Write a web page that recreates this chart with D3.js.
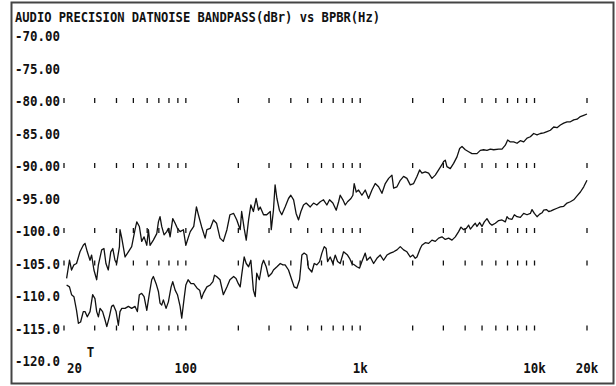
<!DOCTYPE html>
<html><head><meta charset="utf-8">
<script src="https://cdn.jsdelivr.net/npm/d3@7"></script>
<style>html,body{margin:0;padding:0;background:#fff;}svg{display:block;}</style>
</head><body>
<svg id="c" width="616" height="386"></svg>
<script>
const title = "AUDIO PRECISION DATNOISE BANDPASS(dBr) vs BPBR(Hz)";
const yTickValues = [-70,-75,-80,-85,-90,-95,-100,-105,-110,-115,-120];
const yTickLabels = ["-70.00","-75.00","-80.00","-85.00","-90.00","-95.00","-100.0","-105.0","-110.0","-115.0","-120.0"];
const xTickValues = [20,100,1000,10000,20000];
const xTickLabels = ["20","100","1k","10k","20k"];
const gridRows = [-80,-90,-100,-105,-115];
const gridFreqs = [20,30,40,50,60,70,80,90,100,200,300,400,500,600,700,800,900,1000,2000,3000,4000,5000,6000,7000,8000,9000,10000,20000];
const cursorFreq = 28.4;
const cursorLabel = "T";

const upperFreq = [20.7,21.5,22.1,22.8,23.6,24.7,25.8,26.4,27.2,28.2,28.8,29.7,30.8,31.5,32.9,33.9,34.8,35.9,37.1,38.1,39.2,40.1,41.6,41.9,42.9,44.8,46.8,48.9,51.1,52.3,54.1,55.8,57.6,59.7,61.0,62.3,65.1,68.1,69.6,71.1,72.7,75.0,77.7,79.4,81.2,84.1,86.8,89.5,92.7,96.8,100,103,106,111,115,118,123,129,132,138,144,150,157,164,172,179,188,196,205,
209,216,222,229,236,244,253,261,267,279,291,305,309,318,325,333,344,355,371,388,400,415,429,443,457,473,490,517,540,564,590,616,644,667,697,729,752,768,796,821,846,885,908,924,949,979,1023,1069,1117,1168,1220,1275,1333,1393,1456,1521,1555,1625,1698,1774,1854,1937,2025,2116,2192,
2260,2362,2469,2580,2696,2818,2944,3010,3077,3145,3287,3435,3591,3720,3837,4009,4190,4378,4676,4887,5107,5337,5578,5829,6228,6508,6801,7015,7267,7594,7936,8293,8666,9057,9465,9891,10338,10802,11288,11796,12328,12883,13464,14071,14704,15367,16059,16782,17539,18330,19152,20000];
const upperDb = [-107.3,-104.5,-106.0,-105.2,-105.0,-103.2,-102.2,-101.9,-103.2,-104.5,-103.7,-106.0,-107.5,-105.2,-102.9,-102.7,-105.0,-106.0,-103.2,-102.7,-104.5,-105.0,-102.4,-99.8,-101.1,-104.0,-103.2,-102.4,-99.8,-98.6,-99.3,-101.6,-100.9,-102.2,-99.8,-102.2,-101.4,-100.4,-98.6,-97.8,-99.3,-100.6,-100.1,-99.6,-100.9,-98.1,-98.8,-99.6,-100.1,-99.8,-102.2,-101.1,-100.1,-99.3,-96.3,-97.5,-99.3,-101.1,-99.8,-99.6,-98.3,-98.8,-101.1,-101.6,-99.8,-97.5,-97.3,-98.3,-99.8,
-97.0,-99.6,-101.4,-98.3,-96.0,-97.0,-95.0,-96.8,-96.3,-97.5,-97.5,-97.0,-99.8,-96.8,-92.9,-95.0,-96.8,-97.5,-96.3,-95.0,-94.5,-95.2,-97.3,-98.3,-97.0,-96.0,-95.7,-96.3,-95.7,-96.0,-95.5,-95.2,-96.0,-95.2,-95.7,-96.8,-95.5,-94.5,-95.2,-96.0,-95.5,-95.0,-94.5,-92.7,-94.0,-93.7,-94.5,-93.7,-95.0,-93.7,-92.7,-93.2,-94.2,-92.7,-91.9,-91.4,-93.4,-93.2,-92.2,-91.6,-91.9,-92.9,-92.7,-91.6,-90.6,
-91.1,-90.9,-91.1,-91.9,-91.4,-90.6,-89.8,-89.3,-89.1,-90.1,-90.4,-89.6,-88.6,-87.3,-87.0,-87.5,-87.8,-88.1,-88.1,-87.6,-87.5,-87.6,-87.4,-87.5,-87.4,-87.4,-86.8,-86.0,-86.3,-86.3,-86.5,-86.1,-86.3,-85.7,-85.5,-85.0,-85.2,-85.0,-84.9,-84.7,-84.5,-84.0,-84.1,-83.7,-83.4,-83.2,-83.2,-82.9,-82.8,-82.4,-82.2,-82.0];

const lowerFreq = [20.7,21.5,22.1,22.8,23.6,24.2,24.9,25.8,26.4,27.2,28.2,29.2,30.1,30.8,31.5,32.2,33.3,34.4,35.2,36.4,37.5,38.4,39.8,41.0,41.9,42.9,44.8,46.8,48.9,51.1,52.7,54.1,55.8,57.6,59.7,61.8,63.7,65.1,67.5,69.6,71.1,72.7,74.3,77.0,79.4,82.3,84.1,86.8,89.5,92.7,94.7,97.7,100,103,107,111,116,120,123,126,132,138,143,146,150,157,164,172,179,188,194,200,205,
209,216,222,229,236,244,250,255,264,273,279,289,298,311,318,333,348,360,371,388,405,418,433,449,463,477,494,505,528,545,564,585,603,622,638,650,673,697,719,742,768,803,846,869,896,924,957,992,1023,1069,1093,1142,1194,1247,1304,1362,1424,1488,1555,1625,1698,1774,1854,1937,2007,2070,2116,2211,
2260,2362,2469,2580,2696,2818,2944,3077,3216,3361,3512,3670,3785,3921,4062,4190,4284,4436,4574,4676,4844,4996,5152,5337,5528,5702,5960,6228,6508,6801,6953,7108,7429,7662,7936,8293,8666,9057,9465,9676,9978,10338,10708,11046,11288,11694,12061,12441,12883,13464,14071,14704,15367,16059,16782,17539,18330,19152,20000];
const lowerDb = [-108.3,-108.6,-109.8,-110.1,-112.2,-114.2,-114.0,-112.4,-112.4,-113.2,-112.4,-109.8,-110.4,-112.4,-113.2,-111.9,-112.4,-113.7,-114.7,-113.2,-111.6,-111.4,-112.4,-114.5,-112.4,-111.9,-111.9,-111.6,-111.9,-111.6,-112.4,-109.8,-109.6,-110.1,-112.2,-109.6,-107.5,-107.0,-108.1,-109.3,-111.1,-111.4,-110.6,-111.9,-110.9,-108.6,-107.8,-109.1,-109.8,-111.6,-113.4,-110.4,-108.3,-107.5,-108.1,-108.1,-108.8,-109.1,-110.4,-109.6,-108.6,-108.3,-107.8,-106.8,-107.0,-107.5,-109.8,-108.6,-107.5,-107.0,-107.3,-108.1,-108.6,
-106.8,-104.0,-105.0,-105.5,-104.5,-109.1,-110.1,-106.5,-107.5,-105.2,-104.5,-105.5,-107.0,-106.5,-106.0,-105.5,-105.0,-105.2,-105.2,-106.0,-107.5,-108.6,-108.8,-107.5,-103.7,-103.4,-103.7,-105.7,-106.3,-105.0,-105.2,-104.7,-103.4,-102.4,-102.7,-104.7,-104.0,-105.0,-103.7,-104.7,-105.0,-103.2,-103.7,-104.2,-105.0,-105.2,-105.5,-105.7,-104.7,-103.4,-104.5,-104.0,-105.0,-104.2,-103.7,-104.5,-103.7,-103.4,-103.2,-102.9,-102.4,-102.9,-103.2,-104.0,-103.7,-104.2,-104.0,-102.7,
-102.2,-101.8,-101.9,-101.4,-101.6,-101.1,-100.9,-101.3,-101.1,-101.4,-100.9,-100.1,-99.4,-99.8,-99.6,-99.1,-99.7,-99.2,-98.8,-99.3,-98.7,-99.3,-98.6,-98.1,-98.8,-99.1,-98.8,-98.4,-98.3,-98.6,-97.8,-98.1,-98.2,-97.5,-97.8,-97.9,-97.3,-97.5,-97.3,-96.7,-97.3,-97.8,-97.4,-97.2,-96.8,-96.7,-97.0,-96.9,-96.7,-96.5,-96.3,-96.2,-95.7,-95.5,-95.2,-94.6,-94.0,-93.2,-92.2];

const svg = d3.select("#c");
const FONT = "'DejaVu Sans Mono', 'Liberation Mono', monospace";
const CW = 7.5;

const x = d3.scaleLog().domain([20, 20000]).range([64, 587]);
const y = d3.scaleLinear().domain([-120, -70]).range([361, 36]);

svg.append("rect").attr("x",0).attr("y",0).attr("width",616).attr("height",386).attr("fill","#fff");
svg.append("rect").attr("x",11.5).attr("y",2.5).attr("width",602).attr("height",381)
  .attr("fill","none").attr("stroke","#444").attr("stroke-width",2);

function txt(str, px, py, anchor){
  return svg.append("text").attr("x",px).attr("y",py)
    .attr("font-family",FONT).attr("font-weight","bold").attr("font-size",14)
    .attr("text-anchor",anchor||"start")
    .attr("textLength", str.length*CW).attr("lengthAdjust","spacingAndGlyphs")
    .attr("fill","#111").text(str);
}

txt(title, 15, 22).attr("textLength", 365);

yTickValues.forEach((v,i)=>{ txt(yTickLabels[i], 15, y(v)+5); });

xTickValues.forEach((v,i)=>{
  if (i===0) txt(xTickLabels[i], x(v)+3, 373);
  else txt(xTickLabels[i], x(v), 373, "middle");
});

txt(cursorLabel, x(cursorFreq), 357, "middle");

// grid marks
const marks = [];
gridRows.forEach(r => gridFreqs.forEach(f => marks.push([f,r])));
svg.append("g").selectAll("line").data(marks).join("line")
  .attr("x1",d=>x(d[0])).attr("x2",d=>x(d[0]))
  .attr("y1",d=>y(d[1])-3).attr("y2",d=>y(d[1])+2)
  .attr("stroke","#111").attr("stroke-width",1.3);

const line = d3.line().x(d=>x(d[0])).y(d=>y(d[1]));
[[upperFreq,upperDb],[lowerFreq,lowerDb]].forEach(([fs,ds])=>{
  svg.append("path").datum(fs.map((f,i)=>[f,ds[i]]))
    .attr("d",line).attr("fill","none").attr("stroke","#111")
    .attr("stroke-width",1.3).attr("stroke-linejoin","round");
});
</script>
</body></html>
